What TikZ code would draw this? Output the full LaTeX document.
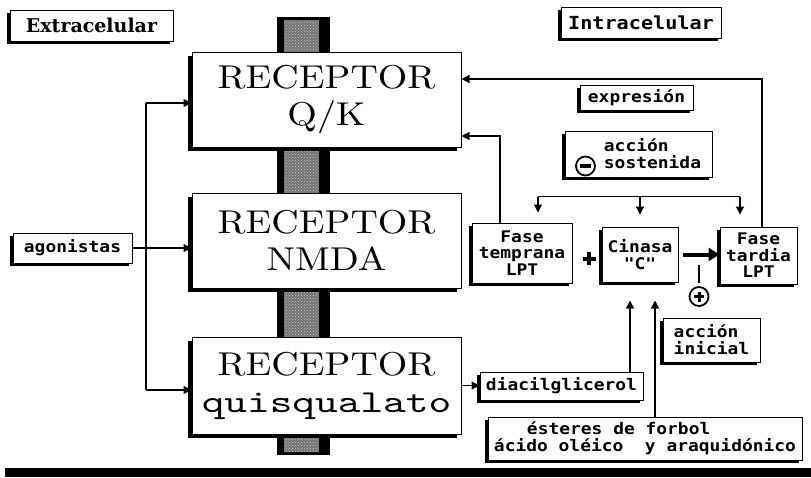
\documentclass[tikz,border=0pt]{standalone}
\usepackage{fontspec}
\usepackage{tikz}
\usetikzlibrary{arrows.meta,positioning,calc,shadows,patterns}
\newfontfamily\pixfont{DejaVu Sans Mono}[FakeStretch=1.12]
\newfontfamily\slabfont{DejaVu Serif}
\newfontfamily\bigserif{lmroman10-regular.otf}[FakeStretch=1.15]
\newfontfamily\bigmono{lmmono10-regular.otf}[FakeStretch=1.35]
% cruz gruesa: largo, grosor
\newcommand{\thickplus}[2]{\rule[\dimexpr-#2/2\relax]{#1}{#2}\hspace*{\dimexpr-#1/2-#2/2\relax}\rule[\dimexpr-#1/2\relax]{#2}{#1}\hspace*{\dimexpr#1/2-#2/2\relax}}

\begin{document}
\begin{tikzpicture}[x=1pt,y=-1pt,
  every node/.style={align=center},
  recbox/.style={draw,fill=white,line width=1pt,minimum width=269pt,minimum height=95pt,inner sep=0pt,
    font=\fontsize{33}{37}\bigserif,
    drop shadow={shadow xshift=-4pt,shadow yshift=-4pt,fill=black,opacity=1}},
  tag/.style={draw,fill=white,line width=1pt,inner sep=3pt,font=\fontsize{16}{17}\pixfont\bfseries,
    drop shadow={shadow xshift=-3pt,shadow yshift=-3pt,fill=black,opacity=1}},
  sign/.style={circle,draw,line width=1.8pt,inner sep=0pt,fill=white},
  arrow/.style={-{Triangle[length=8pt,width=8pt]},line width=1.2pt}]
  \useasboundingbox (0,0) rectangle (811,477);
  % membrana
  \fill[black] (277,17) rectangle (330,455);
  \fill[black!55] (284,20) rectangle (319,452);
  \fill[pattern=crosshatch dots,pattern color=white!80!black] (284,20) rectangle (319,452);
  \fill[black] (5,468) rectangle (811,477);
  % receptores
  \node[recbox] (qk) at (326.5,99.5) {RECEPTOR\\Q/K};
  \node[recbox] (nmda) at (326.5,240.5) {RECEPTOR\\NMDA};
  \node[recbox,minimum height=97pt] (quis) at (326.5,385.5) {RECEPTOR\\{\fontsize{32}{37}\bigmono quisqualato}};
  % etiquetas
  \node[tag,font=\fontsize{19}{20}\slabfont\bfseries,minimum width=163pt,minimum height=31pt] (extra) at (91.5,25.5) {Extracelular};
  \node[tag,font=\fontsize{18}{20}\pixfont\bfseries,minimum width=160pt,minimum height=31pt] (intra) at (641,22.5) {Intracelular};
  \node[tag,minimum width=119pt,minimum height=30pt] (agon) at (72.5,248) {agonistas};
  \node[tag,minimum width=113pt,minimum height=25pt] (expr) at (636.5,97.5) {expresión};
  \node[tag,minimum width=147pt,minimum height=46pt,align=left] (sost) at (638.5,154) {\hspace*{28pt}acción\\\hspace*{28pt}sostenida};
  \node[sign,minimum size=19pt] (minus) at ($(sost.west)+(21,12)$) {\rule[-1.6pt]{11pt}{3.2pt}};
  \node[tag,minimum width=100pt,minimum height=60pt,font=\fontsize{16}{16.5}\pixfont\bfseries] (temp) at (522,253) {Fase\\temprana\\LPT};
  \node[tag,minimum width=76pt,minimum height=55pt] (cin) at (640,254.5) {Cinasa\\"C"};
  \node[tag,minimum width=77pt,minimum height=57pt,font=\fontsize{16}{16.5}\pixfont\bfseries] (tard) at (758.5,255.5) {Fase\\tardia\\LPT};
  \node[tag,minimum width=97pt,minimum height=44pt,align=left] (ini) at (711.5,340) {acción\\inicial};
  \node[tag,minimum width=163pt,minimum height=28pt] (diac) at (561.5,386) {diacilglicerol};
  \node[tag,minimum width=314pt,minimum height=43pt,align=left] (est) at (645,438.5) {\hspace*{33pt}ésteres de forbol\\ácido oléico\ \ y araquidónico};
  \node[inner sep=0pt] (plus) at ($(temp.east)!0.5!(cin.west)+(2,5)$) {\thickplus{13pt}{4pt}};
  % flechas
  \coordinate (bt) at (146,103);
  \coordinate (bb) at (146,390);
  \draw[line width=1.2pt] (bt) -- (bb);
  \draw[arrow] (bt) -- (bt -| qk.west);
  \draw[arrow] (agon.east) -- (agon.east -| nmda.west);
  \draw[arrow] (bb) -- (bb -| quis.west);
  \draw[arrow] (quis.east) -- (quis.east -| diac.west);
  \draw[arrow] ([xshift=3.5pt]tard.north) |- ([yshift=20.5pt]qk.east);
  \draw[arrow] ([xshift=-22pt]temp.north) |- ([yshift=-36.5pt]qk.east);
  \coordinate (dl) at ($(temp.north)+(16,-26)$);
  \coordinate (dr) at ($(tard.north)+(-18.5,-30)$);
  \draw[line width=1.2pt] (dl) -- (dr);
  \draw[arrow] (dl) -- ($(temp.north)+(16,-10)$);
  \draw[arrow] (dl -| cin.north) -- ($(cin.north)+(0,-12)$);
  \draw[arrow] (dr) -- ($(tard.north)+(-18.5,-12)$);
  \draw[line width=4pt,-{Triangle[length=11pt,width=13pt]},shorten <=4pt] (cin.east) -- (cin.east -| tard.west);
  \coordinate (mid) at ($(cin.east)!0.5!(cin.east -| tard.west)$);
  \node[sign,minimum size=19pt] (plusc) at ($(mid)+(0,42)$) {\thickplus{10pt}{3pt}};
  \draw[line width=1.2pt] ($(mid)+(0,10)$) -- ($(plusc.north)+(0,-3)$);
  \draw[arrow] ($(diac.north)+(68.5,0)$) -- ($(diac.north |- cin.south)+(68.5,18)$);
  \draw[arrow] ($(est.north)+(10,0)$) -- ($(est.north |- cin.south)+(10,18)$);
\end{tikzpicture}
\end{document}
